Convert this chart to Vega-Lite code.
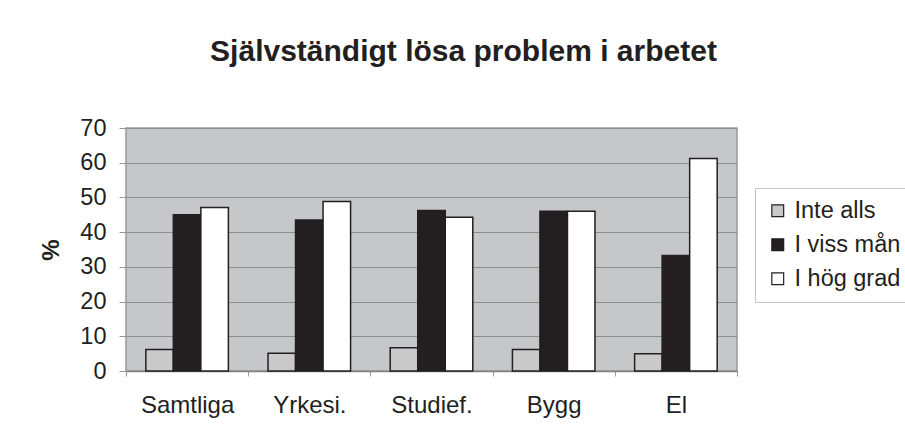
{
  "$schema": "https://vega.github.io/schema/vega-lite/v6.json",
  "width": 611,
  "height": 243,
  "autosize": "none",
  "padding": {"left": 126, "top": 128, "right": 168, "bottom": 73},
  "background": "white",
  "title": {
    "text": "Självständigt lösa problem i arbetet",
    "font": "Liberation Sans",
    "fontSize": 30,
    "fontWeight": "bold",
    "color": "#231f20",
    "anchor": "middle",
    "dx": 32,
    "offset": 49
  },
  "data": {
    "values": [
      {"grupp": "Samtliga", "svar": "Inte alls", "procent": 6.2},
      {"grupp": "Samtliga", "svar": "I viss mån", "procent": 45},
      {"grupp": "Samtliga", "svar": "I hög grad", "procent": 47.1},
      {"grupp": "Yrkesi.", "svar": "Inte alls", "procent": 5.1},
      {"grupp": "Yrkesi.", "svar": "I viss mån", "procent": 43.5},
      {"grupp": "Yrkesi.", "svar": "I hög grad", "procent": 48.8},
      {"grupp": "Studief.", "svar": "Inte alls", "procent": 6.7},
      {"grupp": "Studief.", "svar": "I viss mån", "procent": 46.2},
      {"grupp": "Studief.", "svar": "I hög grad", "procent": 44.3},
      {"grupp": "Bygg", "svar": "Inte alls", "procent": 6.2},
      {"grupp": "Bygg", "svar": "I viss mån", "procent": 46},
      {"grupp": "Bygg", "svar": "I hög grad", "procent": 46},
      {"grupp": "El", "svar": "Inte alls", "procent": 5},
      {"grupp": "El", "svar": "I viss mån", "procent": 33.3},
      {"grupp": "El", "svar": "I hög grad", "procent": 61.2}
    ]
  },
  "mark": {"type": "bar", "stroke": "#231f20", "strokeWidth": 1.5},
  "encoding": {
    "x": {
      "field": "grupp",
      "type": "nominal",
      "sort": ["Samtliga", "Yrkesi.", "Studief.", "Bygg", "El"],
      "scale": {"paddingInner": 0, "paddingOuter": 0},
      "axis": {
        "title": null,
        "labelAngle": 0,
        "labelFont": "Liberation Sans",
        "labelFontSize": 24,
        "labelColor": "#231f20",
        "labelPadding": 17,
        "tickBand": "extent",
        "tickSize": 5,
        "tickColor": "#9a9a9a",
        "domainColor": "#808080",
        "domainWidth": 1.5,
        "grid": false
      }
    },
    "xOffset": {
      "field": "svar",
      "type": "nominal",
      "sort": ["Inte alls", "I viss mån", "I hög grad"],
      "scale": {"paddingInner": 0, "paddingOuter": 0.72}
    },
    "y": {
      "field": "procent",
      "type": "quantitative",
      "scale": {"domain": [0, 70]},
      "axis": {
        "values": [0, 10, 20, 30, 40, 50, 60, 70],
        "title": "%",
        "titleFont": "Liberation Sans",
        "titleFontSize": 24,
        "titleFontWeight": "bold",
        "titleColor": "#231f20",
        "titlePadding": 16,
        "labelFont": "Liberation Sans",
        "labelFontSize": 23.5,
        "labelColor": "#231f20",
        "labelPadding": 13,
        "tickSize": 7,
        "tickColor": "#9a9a9a",
        "domain": false,
        "grid": true,
        "gridColor": "#8e8e8e",
        "gridWidth": 1
      }
    },
    "color": {
      "field": "svar",
      "type": "nominal",
      "sort": ["Inte alls", "I viss mån", "I hög grad"],
      "scale": {
        "domain": ["Inte alls", "I viss mån", "I hög grad"],
        "range": ["#c9c9c9", "#231f20", "#ffffff"]
      },
      "legend": {
        "title": null,
        "orient": "none",
        "legendX": 629,
        "legendY": 60,
        "strokeColor": "#c4c4c4",
        "padding": 11,
        "symbolType": "square",
        "symbolSize": 140,
        "symbolStrokeColor": "#231f20",
        "symbolStrokeWidth": 1.2,
        "symbolOpacity": 1,
        "labelFont": "Liberation Sans",
        "labelFontSize": 23.5,
        "labelColor": "#231f20",
        "labelOffset": 5,
        "rowPadding": 9
      }
    }
  },
  "config": {
    "view": {"fill": "#c6c7c9", "stroke": "#9a9a9a", "strokeWidth": 1.5}
  }
}
